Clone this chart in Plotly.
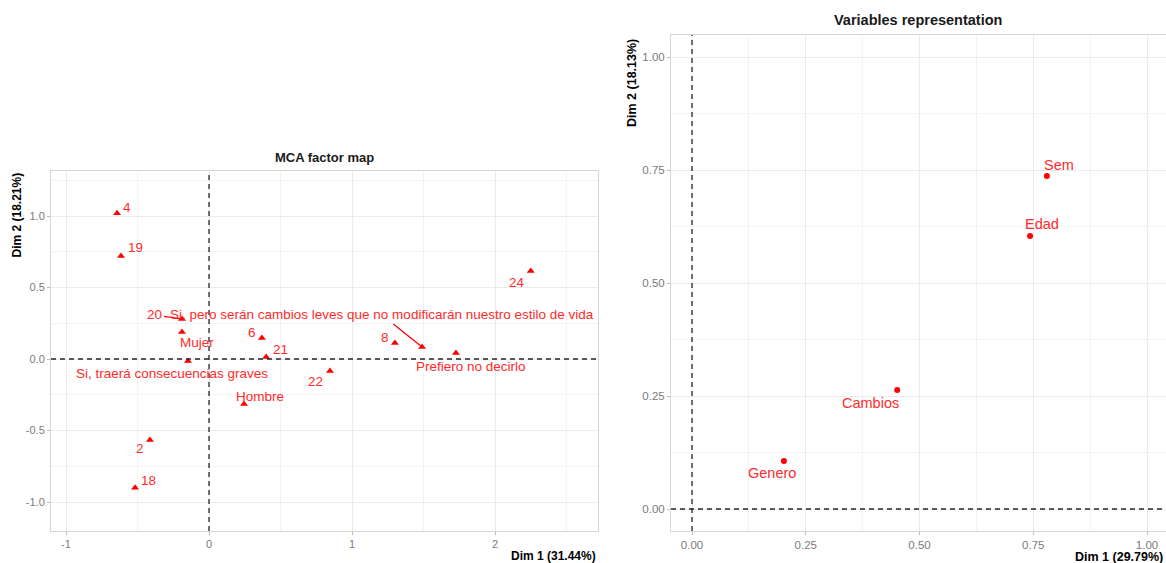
import plotly.graph_objects as go

# ---- MCA factor map: individuals and categories (Dim 1 / Dim 2) ----
ind_labels = ["4", "19", "20", "6", "21", "8", "24", "22", "2", "18"]
ind_x = [-0.643, -0.615, -0.189, 0.37, 0.40, 1.30, 2.25, 0.846, -0.413, -0.517]
ind_y = [1.02, 0.72, 0.28, 0.147, 0.014, 0.112, 0.615, -0.084, -0.566, -0.90]

cat_labels = [
    "Mujer",
    "Hombre",
    "Si, traerá consecuencias graves",
    "Si, pero serán cambios leves que no modificarán nuestro estilo de vida",
    "Prefiero no decirlo",
]
cat_x = [-0.189, 0.245, -0.147, 1.49, 1.727]
cat_y = [0.189, -0.315, -0.014, 0.084, 0.042]

# ---- Variables representation ----
var_labels = ["Sem", "Edad", "Cambios", "Genero"]
var_x = [0.780, 0.743, 0.451, 0.202]
var_y = [0.737, 0.604, 0.263, 0.106]

left_x_ticks = [-1, 0, 1, 2]
left_y_ticks = [-1.0, -0.5, 0.0, 0.5, 1.0]
right_ticks = [0.0, 0.25, 0.5, 0.75, 1.0]

RED = "#FF0000"
LABEL_RED = "#FF2A2A"
GRID = "#EBEBEB"
BORDER = "#D6D6D6"
TICK = "#7A7A7A"
FONT = "Liberation Sans, Arial, sans-serif"

W, H = 1166, 563

# label offsets in pixels (dx, dy: +dy = downwards), repelled-label style
ind_offsets = {
    "4": (10, -6), "19": (14, -9), "6": (-10, -5), "21": (14, -8),
    "8": (-10, -5), "24": (-14, 11), "22": (-14, 10), "2": (-10, 9), "18": (13, -7),
}
cat_offsets = {
    "Mujer": (15, 11), "Hombre": (16, -8),
    "Si, traerá consecuencias graves": (-16, 12),
    "Prefiero no decirlo": (15, 14),
}
# labels connected to their point by a segment
ind_arrows = {"20": (-27, -4)}
cat_arrows = {"Si, pero serán cambios leves que no modificarán nuestro estilo de vida": (-40, -32)}
var_offsets = {"Sem": (12, -11), "Edad": (12, -12), "Cambios": (-27, 13), "Genero": (-12, 12)}

fig = go.Figure()

tri = dict(symbol="triangle-up", size=7, color=RED)
fig.add_trace(go.Scatter(x=ind_x, y=ind_y, mode="markers", marker=tri,
                         xaxis="x", yaxis="y", hoverinfo="text", text=ind_labels))
fig.add_trace(go.Scatter(x=cat_x, y=cat_y, mode="markers", marker=tri,
                         xaxis="x", yaxis="y", hoverinfo="text", text=cat_labels))
fig.add_trace(go.Scatter(x=var_x, y=var_y, mode="markers",
                         marker=dict(symbol="circle", size=6, color=RED),
                         xaxis="x2", yaxis="y2", hoverinfo="text", text=var_labels))

annotations = []


def point_label(lbl, x, y, xref, yref, size, offsets, arrows):
    if lbl in arrows:
        ax, ay = arrows[lbl]
        annotations.append(dict(
            x=x, y=y, xref=xref, yref=yref, text=lbl, showarrow=True,
            ax=ax, ay=ay, arrowhead=0, arrowwidth=1.3, arrowcolor=RED,
            standoff=0, font=dict(size=size, color=LABEL_RED, family=FONT)))
    else:
        dx, dy = offsets[lbl]
        annotations.append(dict(
            x=x, y=y, xref=xref, yref=yref, text=lbl, showarrow=False,
            xshift=dx, yshift=-dy, font=dict(size=size, color=LABEL_RED, family=FONT)))


for lbl, x, y in zip(ind_labels, ind_x, ind_y):
    point_label(lbl, x, y, "x", "y", 13.5, ind_offsets, ind_arrows)
for lbl, x, y in zip(cat_labels, cat_x, cat_y):
    point_label(lbl, x, y, "x", "y", 13.5, cat_offsets, cat_arrows)
for lbl, x, y in zip(var_labels, var_x, var_y):
    point_label(lbl, x, y, "x2", "y2", 14.5, var_offsets, {})

# panel geometry in pixels
L_left, L_right, L_top, L_bottom = 51, 598, 171, 531
R_left, R_right, R_top, R_bottom = 671, 1166, 35, 531


def px_x(p):
    return p / W


def px_y(p):
    return 1 - p / H


annotations += [
    dict(text="<b>MCA factor map</b>", x=px_x((L_left + L_right) / 2), y=px_y(157),
         xref="paper", yref="paper", showarrow=False,
         font=dict(size=13, color="#1A1A1A", family=FONT),
         xanchor="center", yanchor="middle"),
    dict(text="<b>Variables representation</b>", x=px_x(918), y=px_y(20),
         xref="paper", yref="paper", showarrow=False,
         font=dict(size=14.5, color="#1A1A1A", family=FONT),
         xanchor="center", yanchor="middle"),
    dict(text="<b>Dim 2 (18.21%)</b>", x=px_x(17), y=px_y(L_top), textangle=-90,
         xref="paper", yref="paper", showarrow=False,
         font=dict(size=12, color="#000000", family=FONT),
         xanchor="center", yanchor="top"),
    dict(text="<b>Dim 1 (31.44%)</b>", x=px_x(L_right), y=px_y(556),
         xref="paper", yref="paper", showarrow=False,
         font=dict(size=12, color="#000000", family=FONT),
         xanchor="right", yanchor="middle"),
    dict(text="<b>Dim 2 (18.13%)</b>", x=px_x(632), y=px_y(R_top + 2), textangle=-90,
         xref="paper", yref="paper", showarrow=False,
         font=dict(size=12.5, color="#000000", family=FONT),
         xanchor="center", yanchor="top"),
    dict(text="<b>Dim 1 (29.79%)</b>", x=px_x(1165), y=px_y(557),
         xref="paper", yref="paper", showarrow=False,
         font=dict(size=12.5, color="#000000", family=FONT),
         xanchor="right", yanchor="middle"),
]

# dashed reference lines through the origin of each panel
zero_line = dict(color="#262626", width=1.3, dash="5px,4px")
shapes = []
for xr, yr in (("x", "y"), ("x2", "y2")):
    shapes.append(dict(type="line", xref=xr, yref=yr + " domain", x0=0, x1=0, y0=0, y1=1,
                       line=zero_line, layer="above"))
    shapes.append(dict(type="line", xref=xr + " domain", yref=yr, x0=0, x1=1, y0=0, y1=0,
                       line=zero_line, layer="above"))


def axis(domain, rng, ticks, fmt, anchor, minor_step, tick_size):
    return dict(
        domain=domain, range=rng, anchor=anchor,
        tickmode="array", tickvals=ticks, ticktext=[fmt(t) for t in ticks],
        showgrid=True, gridcolor=GRID, gridwidth=1,
        minor=dict(dtick=minor_step, showgrid=True, gridcolor="#F3F3F3", gridwidth=1),
        zeroline=False, showline=True, mirror=True, linecolor=BORDER, linewidth=1,
        ticks="outside", ticklen=3, tickcolor="#BDBDBD",
        tickfont=dict(size=tick_size, color=TICK, family=FONT),
    )


fig.update_layout(
    width=W, height=H,
    margin=dict(l=0, r=0, t=0, b=0),
    paper_bgcolor="white", plot_bgcolor="white",
    showlegend=False,
    xaxis=axis([px_x(L_left), px_x(L_right)],
               [(L_left - 209) / 143, (L_right - 209) / 143],
               left_x_ticks, lambda v: f"{v:d}", "y", 0.5, 11),
    yaxis=axis([px_y(L_bottom), px_y(L_top)],
               [(359 - L_bottom) / 143, (359 - L_top) / 143],
               left_y_ticks, lambda v: f"{v:.1f}", "x", 0.25, 11),
    xaxis2=axis([px_x(R_left), px_x(R_right)],
                [(R_left - 692) / 455, (R_right - 692) / 455],
                right_ticks, lambda v: f"{v:.2f}", "y2", 0.125, 11.5),
    yaxis2=axis([px_y(R_bottom), px_y(R_top)],
                [(509 - R_bottom) / 452, (509 - R_top) / 452],
                right_ticks, lambda v: f"{v:.2f}", "x2", 0.125, 11.5),
    annotations=annotations,
    shapes=shapes,
)

fig.write_html("out.html")
